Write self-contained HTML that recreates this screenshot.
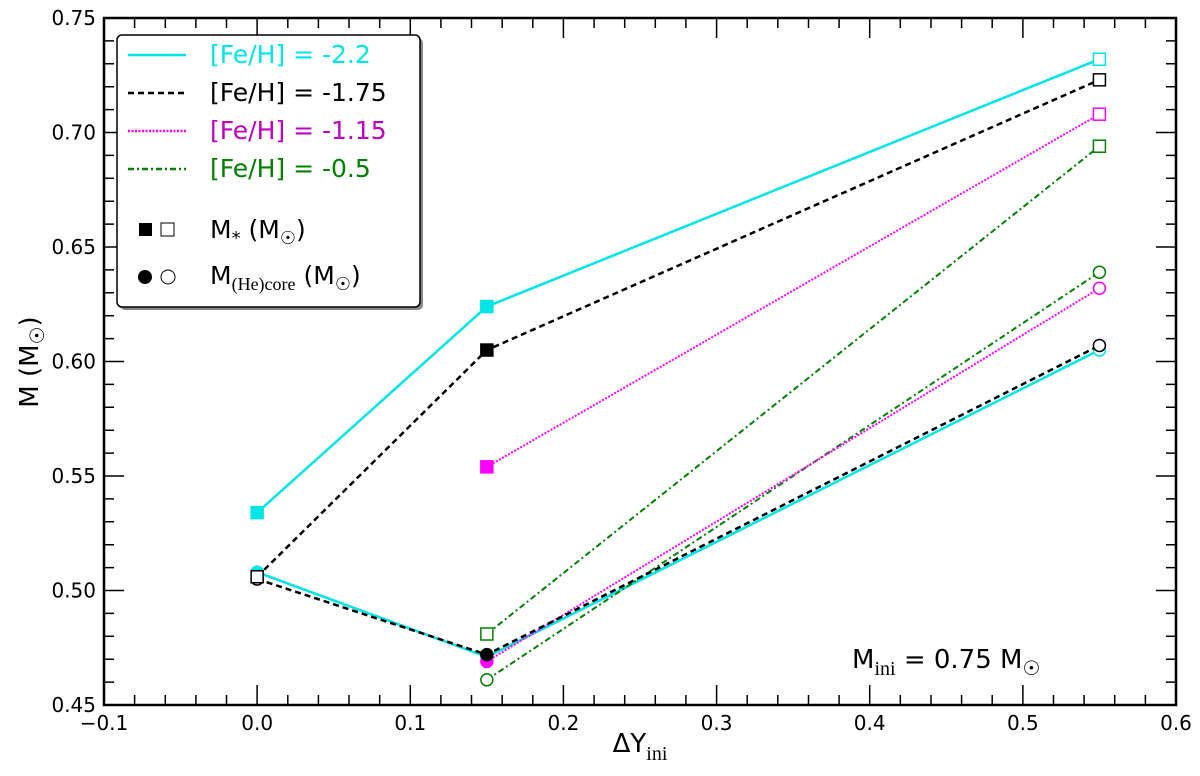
<!DOCTYPE html>
<html><head><meta charset="utf-8"><style>
body{margin:0;background:#fff;}
svg text{font-family:"DejaVu Sans","Liberation Sans",sans-serif;}
</style></head><body>
<svg id="c" width="1200" height="771" viewBox="0 0 1200 771">
<g id="series"></g>
<rect x="104" y="18" width="1072" height="687" fill="none" stroke="#000" stroke-width="2.5"/>
<path id="tickpath" d="" stroke="#000" stroke-width="1.5" fill="none"/>
<g id="ticks"></g>
<text x="640" y="752" font-size="26" text-anchor="middle">ΔY<tspan font-family="Liberation Serif" font-size="20" dy="8">ini</tspan></text>
<text transform="translate(38,362) rotate(-90)" font-size="26" text-anchor="middle">M (M<tspan font-size="20" dy="6">☉</tspan><tspan dy="-6">)</tspan></text>
<text x="852" y="668" font-size="26">M<tspan font-family="Liberation Serif" font-size="20" dy="7">ini</tspan><tspan dy="-7"> = 0.75 M</tspan><tspan font-size="20" dy="7">☉</tspan></text>
<g>
<rect x="120" y="38" width="303" height="272" rx="5" fill="#888"/>
<rect x="117" y="35" width="303" height="272" rx="5" fill="#fff" stroke="#000" stroke-width="1.5"/>
<g id="leg"></g>
</g>
</svg>
<script>
const xTicks=[-0.1,0,0.1,0.2,0.3,0.4,0.5,0.6];
const xTickLabels=["−0.1","0.0","0.1","0.2","0.3","0.4","0.5","0.6"];
const yTicks=[0.45,0.5,0.55,0.6,0.65,0.7,0.75];
const yTickLabels=["0.45","0.50","0.55","0.60","0.65","0.70","0.75"];
const cyanX=[0,0.15,0.55];
const cyanMstar=[0.534,0.624,0.732];
const cyanCore=[0.508,0.471,0.605];
const cyanFilled=[1,1,0];
const blackX=[0,0.15,0.55];
const blackMstar=[0.506,0.605,0.723];
const blackCore=[0.505,0.472,0.607];
const blackFilled=[0,1,0];
const magX=[0.15,0.55];
const magMstar=[0.554,0.708];
const magCore=[0.469,0.632];
const magFilled=[1,0];
const greenX=[0.15,0.55];
const greenMstar=[0.481,0.694];
const greenCore=[0.461,0.639];
const greenFilled=[0,0];
const NS="http://www.w3.org/2000/svg";
const L=104,R=1176,T=18,B=705;
const sx=v=>L+(v+0.1)/0.7*(R-L);
const sy=v=>B-(v-0.45)/0.3*(B-T);
function mk(tag,at,par){const e=document.createElementNS(NS,tag);for(const k in at)e.setAttribute(k,at[k]);par.appendChild(e);return e;}
const tk=document.getElementById('ticks');
let d='';
for(let i=0;i<=35;i++){const x=sx(-0.1+i*0.02).toFixed(1);const len=i%5==0?20:10;
 d+='M'+x+' '+B+'V'+(B-len)+'M'+x+' '+T+'V'+(T+len);}
for(let i=0;i<=30;i++){const y=sy(0.45+i*0.01).toFixed(1);const len=i%5==0?20:10;
 d+='M'+L+' '+y+'H'+(L+len)+'M'+R+' '+y+'H'+(R-len);}
document.getElementById('tickpath').setAttribute('d',d);
xTicks.forEach((v,i)=>{const t=mk('text',{x:sx(v),y:B+25,'font-size':20,'text-anchor':'middle'},tk);t.textContent=xTickLabels[i];
 });
yTicks.forEach((v,i)=>{const t=mk('text',{x:L-8,y:sy(v)+7,'font-size':20,'text-anchor':'end'},tk);t.textContent=yTickLabels[i];
 });
const sg=document.getElementById('series');
function series(name,xs,ys,filled,col,dash,w,shape){
 const g=mk('g',{},sg);
 const at={points:xs.map((x,i)=>sx(x)+','+sy(ys[i])).join(' '),fill:'none',stroke:col,'stroke-width':w};
 if(dash)at['stroke-dasharray']=dash;
 const p=mk('polyline',at,g);
 
 xs.forEach((x,i)=>{const f=filled[i]?col:'#fff';let m;
  if(shape=='sq')m=mk('rect',{x:sx(x)-6,y:sy(ys[i])-6,width:12,height:12,fill:f,stroke:col,'stroke-width':1.5},g);
  else m=mk('circle',{cx:sx(x),cy:sy(ys[i]),r:6,fill:f,stroke:col,'stroke-width':1.5},g);
  });}
const cy='#00e5e5',mg='#ff00ff',gr='#008000';
series('cyan-core',cyanX,cyanCore,cyanFilled,cy,'',2.5,'ci');
series('cyan-mstar',cyanX,cyanMstar,cyanFilled,cy,'',2.5,'sq');
series('green-core',greenX,greenCore,greenFilled,gr,'6 3 2 3',2,'ci');
series('green-mstar',greenX,greenMstar,greenFilled,gr,'6 3 2 3',2,'sq');
series('magenta-core',magX,magCore,magFilled,mg,'2 1.5',2,'ci');
series('magenta-mstar',magX,magMstar,magFilled,mg,'2 1.5',2,'sq');
series('black-core',blackX,blackCore,blackFilled,'#000','6 4',2.5,'ci');
series('black-mstar',blackX,blackMstar,blackFilled,'#000','6 4',2.5,'sq');
const lg=document.getElementById('leg');
const legLabels=["[Fe/H] = -2.2","[Fe/H] = -1.75","[Fe/H] = -1.15","[Fe/H] = -0.5"];
const legCols=[cy,'#000','#c000c0',gr],legLine=[cy,'#000',mg,gr],legDash=['','6 4','2 1.5','6 3 2 3'];
legLabels.forEach((s,i)=>{const y=63+i*38;
 const at={x1:128,x2:186,y1:y-8,y2:y-8,stroke:legLine[i],'stroke-width':2.5};
 if(legDash[i])at['stroke-dasharray']=legDash[i];
 const l=mk('line',at,lg);
 
 const t=mk('text',{x:210,y:y,'font-size':25,fill:legCols[i]},lg);t.textContent=s;
 });
lg.insertAdjacentHTML('beforeend','<rect x="139" y="223" width="13" height="13" fill="#000"/><rect x="161" y="223" width="13" height="13" fill="#fff" stroke="#000"/><text x="210" y="238" font-size="25">M<tspan font-size="18" dy="6">*</tspan><tspan dy="-6"> (M</tspan><tspan font-size="18" dy="6">☉</tspan><tspan dy="-6">)</tspan></text><circle cx="145" cy="277" r="7" fill="#000"/><circle cx="168" cy="277" r="7" fill="#fff" stroke="#000"/><text x="210" y="284" font-size="25">M<tspan font-family="Liberation Serif" font-size="18" dy="6">(He)core</tspan><tspan dy="-6"> (M</tspan><tspan font-size="18" dy="6">☉</tspan><tspan dy="-6">)</tspan></text>');
</script>
</body></html>
